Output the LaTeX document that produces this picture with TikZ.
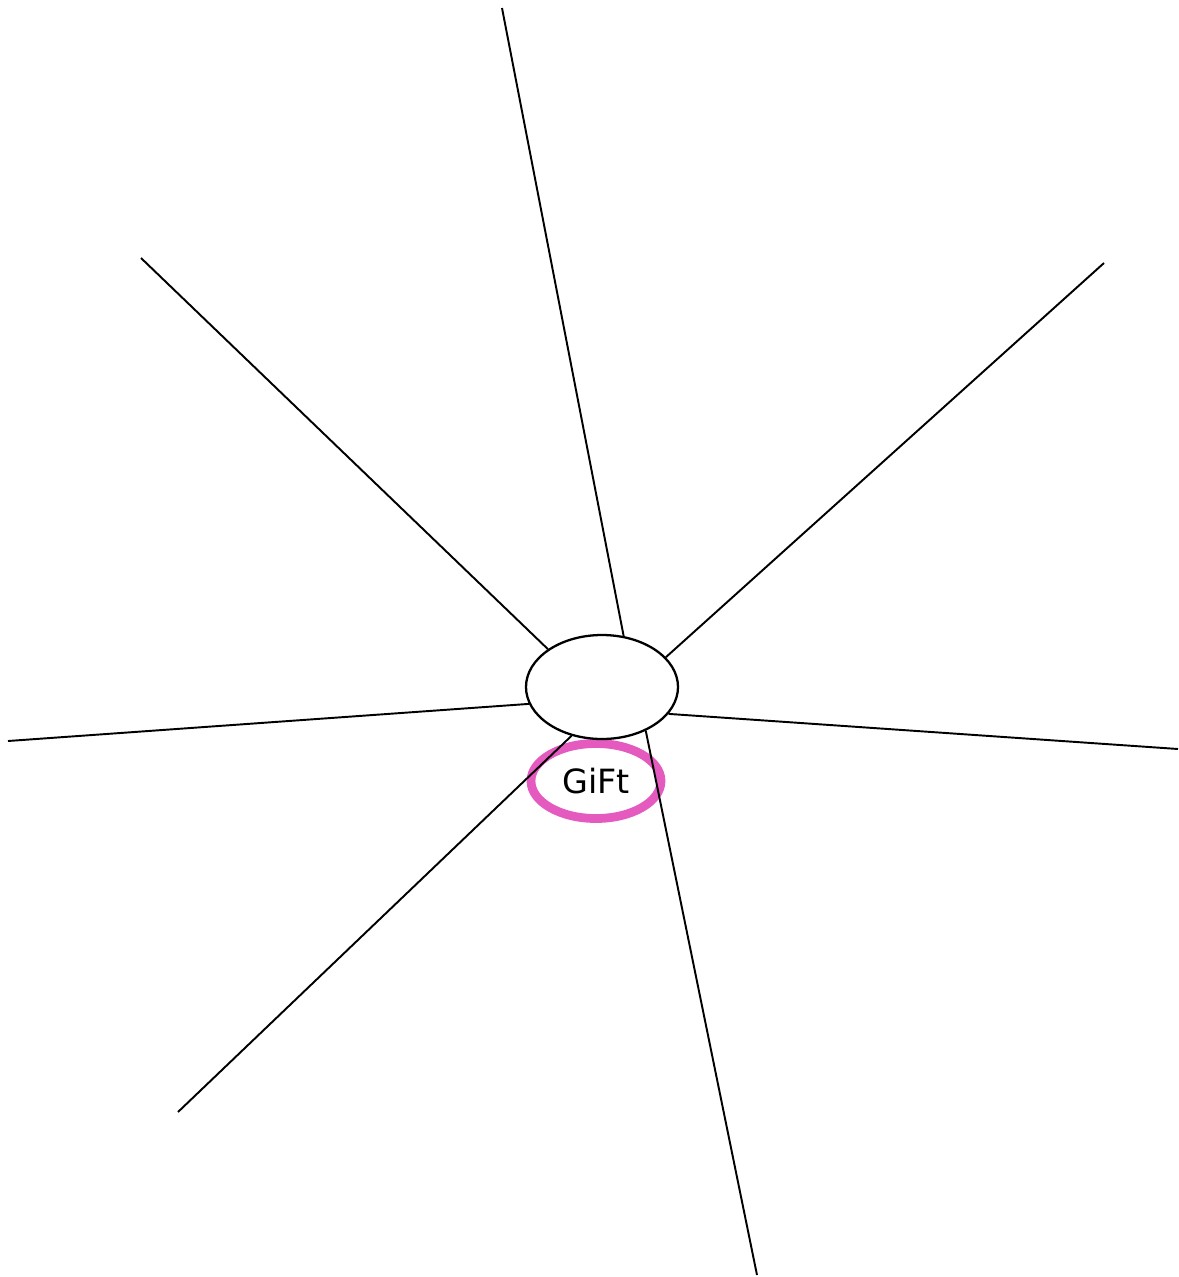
\documentclass[tikz,border=0pt]{standalone}
\usepackage{xcolor}
\usepackage{fontspec}
\setmainfont{DejaVu Sans}
\usetikzlibrary{shapes.geometric}
\definecolor{GiftPink}{HTML}{E45ABF}

\begin{document}
\begin{tikzpicture}[
  x=0.2mm, y=-0.2mm,
  hub/.style={draw,ellipse,line width=1.3pt,minimum width=3.04cm,minimum height=2.08cm,inner sep=0pt},
  tag/.style={draw=GiftPink,ellipse,line width=5pt,minimum width=2.6cm,minimum height=1.5cm,inner sep=0pt,font=\fontsize{19}{22}\selectfont},
  spoke/.style={line width=1.1pt}
]
  \useasboundingbox (0,0) rectangle (1179,1277);
  \node[tag] (gift) at (596,781) {GiFt};
  \node[hub] (hub) at (602,687) {};

  \coordinate (top) at (502,8);
  \coordinate (ul) at (141,258);
  \coordinate (ur) at (1104,263);
  \coordinate (lf) at (8,741);
  \coordinate (rt) at (1178,749);
  \coordinate (ll) at (178,1112);
  \coordinate (lr) at (757,1275);

  \draw[spoke] (hub.67) -- (top);
  \draw[spoke] (hub.145) -- (ul);
  \draw[spoke] (hub.25) -- (ur);
  \draw[spoke] (hub.193) -- (lf);
  \draw[spoke] (hub.-22) -- (rt);
  \draw[spoke] (hub.-122) -- (ll);
  \draw[spoke] (hub.-45) -- (lr);
\end{tikzpicture}
\end{document}
